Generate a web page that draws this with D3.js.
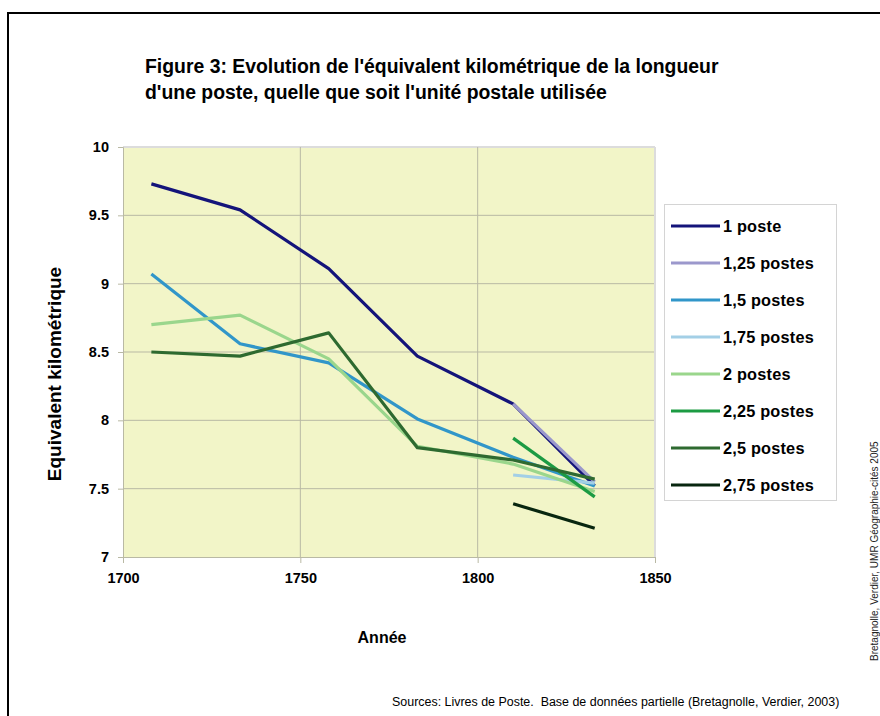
<!DOCTYPE html>
<html>
<head>
<meta charset="utf-8">
<script src="https://cdn.jsdelivr.net/npm/d3@7"></script>
<style>
  body { margin: 0; background: #fff; }
  svg text { font-family: "Liberation Sans", Arial, sans-serif; }
</style>
</head>
<body>
<div class="graphics"></div>
<script>
// annees des livres de poste
const annees = [1708, 1733, 1758, 1783, 1810, 1833];

const series = ["1 poste", "1,25 postes", "1,5 postes", "1,75 postes", "2 postes", "2,25 postes", "2,5 postes", "2,75 postes"];
const couleurs = ["#14147a", "#9b98cc", "#3196c9", "#a3cfe6", "#9ad68c", "#1c9b43", "#2e6a30", "#08260f"];

// null = pas de valeur pour cette annee
const v1 = [9.73, 9.54, 9.11, 8.47, 8.12, 7.52];
const v125 = [null, null, null, null, 8.12, 7.55];
const v15 = [9.07, 8.56, 8.42, 8.01, 7.73, 7.52];
const v175 = [null, null, null, null, 7.60, 7.54];
const v2 = [8.70, 8.77, 8.45, 7.81, 7.68, 7.48];
const v225 = [null, null, null, null, 7.87, 7.44];
const v25 = [8.50, 8.47, 8.64, 7.80, 7.71, 7.57];
const v275 = [null, null, null, null, 7.39, 7.21];
const valeurs = [v1, v125, v15, v175, v2, v225, v25, v275];

const yTicks = [7, 7.5, 8, 8.5, 9, 9.5, 10];
const xTicks = [1700, 1750, 1800, 1850];

const width = 880, height = 716;
const plot = { left: 123, right: 655, top: 147, bottom: 557 };

const svg = d3.select('.graphics')
  .append('svg')
  .attr('width', width)
  .attr('height', height);

// cadre
svg.append('path')
  .attr('d', `M8,${height + 5}V13H${width + 5}`)
  .attr('fill', 'none')
  .attr('stroke', '#000')
  .attr('stroke-width', 2);

// titre
const titre = svg.append('text')
  .attr('font-size', 19.4)
  .attr('font-weight', 'bold')
  .attr('fill', '#000');
titre.append('tspan').attr('x', 145).attr('y', 73).text("Figure 3: Evolution de l'équivalent kilométrique de la longueur");
titre.append('tspan').attr('x', 145).attr('y', 99).text("d'une poste, quelle que soit l'unité postale utilisée");

const x = d3.scaleLinear().domain([1700, 1850]).range([plot.left, plot.right]);
const y = d3.scaleLinear().domain([7, 10]).range([plot.bottom, plot.top]);

// fond
svg.append('rect')
  .attr('x', plot.left)
  .attr('y', plot.top)
  .attr('width', plot.right - plot.left)
  .attr('height', plot.bottom - plot.top)
  .attr('fill', '#f2f5c8');

// grille
svg.append('g')
  .selectAll('line')
  .data(yTicks.slice(1))
  .join('line')
  .attr('x1', plot.left).attr('x2', plot.right)
  .attr('y1', d => y(d)).attr('y2', d => y(d))
  .attr('stroke', d => d === 10 ? '#dcdcdc' : '#b9b9a4')
  .attr('stroke-width', d => d === 10 ? 2 : 1);

svg.append('g')
  .selectAll('line')
  .data(xTicks.slice(1))
  .join('line')
  .attr('x1', d => x(d)).attr('x2', d => x(d))
  .attr('y1', plot.top).attr('y2', plot.bottom)
  .attr('stroke', d => d === 1850 ? '#dcdcdc' : '#b9b9a4')
  .attr('stroke-width', d => d === 1850 ? 2 : 1);

// axes
const axeY = svg.append('g')
  .attr('transform', `translate(${plot.left},0)`)
  .call(d3.axisLeft(y).tickValues(yTicks).tickSize(5).tickPadding(9).tickFormat(d => String(d)));
axeY.select('.domain').attr('stroke', '#b9b9a4');
axeY.selectAll('.tick line').attr('stroke', '#b9b9a4');
axeY.selectAll('.tick text')
  .attr('font-size', 14.5).attr('font-weight', 'bold').attr('fill', '#000')
  .attr('font-family', '"Liberation Sans", Arial, sans-serif');

const axeX = svg.append('g')
  .attr('transform', `translate(0,${plot.bottom})`)
  .call(d3.axisBottom(x).tickValues(xTicks).tickSize(6).tickPadding(10).tickFormat(d3.format('d')));
axeX.select('.domain').attr('stroke', '#b9b9a4');
axeX.selectAll('.tick line').attr('stroke', '#b9b9a4');
axeX.selectAll('.tick text')
  .attr('font-size', 14.5).attr('font-weight', 'bold').attr('fill', '#000')
  .attr('font-family', '"Liberation Sans", Arial, sans-serif');

// courbes
const ligne = d3.line()
  .defined(d => d.v !== null)
  .x(d => x(d.annee))
  .y(d => y(d.v));

const donnees = series.map((nom, i) => ({
  nom: nom,
  couleur: couleurs[i],
  points: annees.map((a, j) => ({ annee: a, v: valeurs[i][j] }))
}));

svg.append('g')
  .selectAll('path')
  .data(donnees)
  .join('path')
  .attr('d', d => ligne(d.points))
  .attr('fill', 'none')
  .attr('stroke', d => d.couleur)
  .attr('stroke-width', 3.2)
  .attr('stroke-linejoin', 'round');

// titres des axes
svg.append('text')
  .attr('transform', 'translate(61,374) rotate(-90)')
  .attr('text-anchor', 'middle')
  .attr('font-size', 19)
  .attr('font-weight', 'bold')
  .text('Equivalent kilométrique');

svg.append('text')
  .attr('x', 382)
  .attr('y', 643)
  .attr('text-anchor', 'middle')
  .attr('font-size', 16)
  .attr('font-weight', 'bold')
  .text('Année');

// legende
const leg = svg.append('g');
leg.append('rect')
  .attr('x', 664.5).attr('y', 204.5)
  .attr('width', 172).attr('height', 296)
  .attr('fill', '#fff')
  .attr('stroke', '#d4d4d4');

const items = leg.selectAll('g')
  .data(donnees)
  .join('g')
  .attr('transform', (d, i) => `translate(0,${226 + i * 37})`);
items.append('line')
  .attr('x1', 671).attr('x2', 720)
  .attr('stroke', d => d.couleur)
  .attr('stroke-width', 3.2);
items.append('text')
  .attr('x', 723).attr('y', 6)
  .attr('font-size', 16.3)
  .attr('font-weight', 'bold')
  .attr('letter-spacing', 0.2)
  .text(d => d.nom);

// sources
svg.append('text')
  .attr('x', 392)
  .attr('y', 706)
  .attr('font-size', 12.45)
  .attr('xml:space', 'preserve')
  .text('Sources: Livres de Poste.  Base de données partielle (Bretagnolle, Verdier, 2003)');

svg.append('text')
  .attr('transform', 'translate(878,661) rotate(-90)')
  .attr('font-size', 10)
  .attr('fill', '#222')
  .text('Bretagnolle, Verdier, UMR Géographie-cités 2005');
</script>
</body>
</html>
